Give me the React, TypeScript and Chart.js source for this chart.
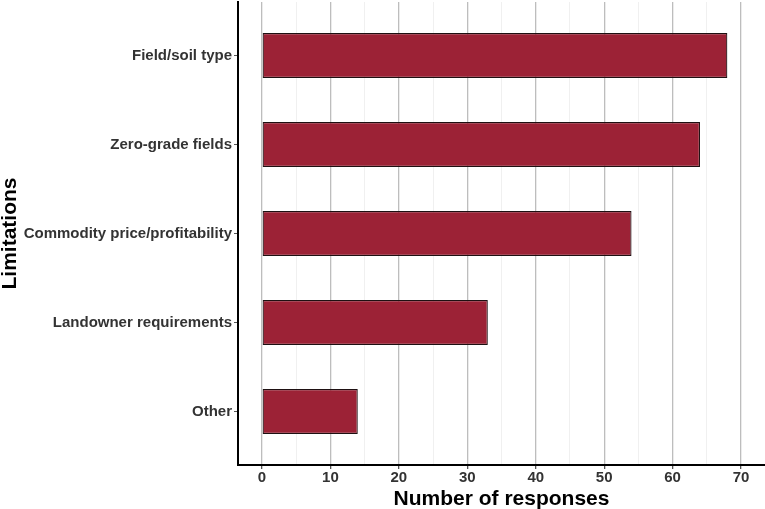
import React, { useEffect, useRef } from "react";
import { Chart, registerables } from "chart.js";

Chart.register(...registerables);

const categories = [
  "Field/soil type",
  "Zero-grade fields",
  "Commodity price/profitability",
  "Landowner requirements",
  "Other",
];
const responses = [68, 64, 54, 33, 14];
const majorTicks = [0, 10, 20, 30, 40, 50, 60, 70];
const minorTicks = [5, 15, 25, 35, 45, 55, 65];

const FONT = "'Liberation Sans', Arial, sans-serif";

export default function App() {
  const ref = useRef<HTMLCanvasElement | null>(null);

  useEffect(() => {
    document.body.style.margin = "0";
    const canvas = ref.current;
    if (!canvas) return;
    const allX = [...majorTicks, ...minorTicks].sort((a, b) => a - b);
    const chart = new Chart(canvas, {
      type: "bar",
      data: {
        datasets: [
          {
            data: responses.map((v, i) => ({ x: v, y: i + 1 })),
            backgroundColor: "#9c2236",
            borderColor: "#1e1012",
            borderWidth: 1.2,
            borderSkipped: false,
            barPercentage: 0.505,
            categoryPercentage: 1,
          },
        ],
      },
      options: {
        indexAxis: "y",
        responsive: false,
        animation: false,
        layout: { padding: { top: 2, right: 0, left: 0, bottom: 0 } },
        plugins: { legend: { display: false }, tooltip: { enabled: false } },
        scales: {
          x: {
            type: "linear",
            min: -3.5,
            max: 73.5,
            offset: false,
            afterBuildTicks: (scale: any) => {
              scale.ticks = allX.map((v) => ({ value: v }));
            },
            afterFit: (scale: any) => {
              scale.height = 44;
              scale.paddingLeft = 0;
              scale.paddingRight = 0;
            },
            border: { display: true, color: "#000", width: 2 },
            grid: {
              offset: false,
              color: (ctx: any) =>
                ctx.tick && majorTicks.includes(ctx.tick.value) ? "#bdbdbd" : "#ececec",
              lineWidth: (ctx: any) =>
                ctx.tick && majorTicks.includes(ctx.tick.value) ? 1.3 : 0.8,
              tickColor: (ctx: any) =>
                ctx.tick && majorTicks.includes(ctx.tick.value) ? "#555" : "rgba(0,0,0,0)",
              tickLength: 4,
              drawTicks: true,
            },
            ticks: {
              autoSkip: false,
              maxRotation: 0,
              padding: 0,
              color: "#333",
              font: { family: FONT, size: 15, weight: "bold" },
              callback: (v: any) => (majorTicks.includes(Number(v)) ? String(v) : ""),
            },
            title: {
              display: true,
              text: "Number of responses",
              color: "#000",
              font: { family: FONT, size: 21, weight: "bold", lineHeight: 1 },
              padding: { top: 0, bottom: -1 },
            },
          },
          y: {
            type: "linear",
            min: 0.4,
            max: 5.6,
            reverse: true,
            offset: false,
            afterBuildTicks: (scale: any) => {
              scale.ticks = categories.map((_, i) => ({ value: i + 1 }));
            },
            afterFit: (scale: any) => {
              scale.width = 238;
              scale.paddingTop = 0;
              scale.paddingBottom = 0;
            },
            border: { display: true, color: "#000", width: 2 },
            grid: {
              offset: false,
              drawOnChartArea: false,
              drawTicks: true,
              tickLength: 4,
              tickColor: "#555",
            },
            ticks: {
              autoSkip: false,
              padding: 2,
              color: "#333",
              font: { family: FONT, size: 15, weight: "bold" },
              callback: (v: any) => categories[Number(v) - 1] ?? "",
            },
            title: {
              display: true,
              text: "Limitations",
              color: "#000",
              font: { family: FONT, size: 21, weight: "bold", lineHeight: 1 },
              padding: { top: 0, bottom: 0 },
            },
          },
        },
      },
    });
    return () => chart.destroy();
  }, []);

  return (
    <div style={{ width: 765, height: 509, background: "#fff" }}>
      <canvas ref={ref} width={765} height={509} style={{ display: "block" }} />
    </div>
  );
}
